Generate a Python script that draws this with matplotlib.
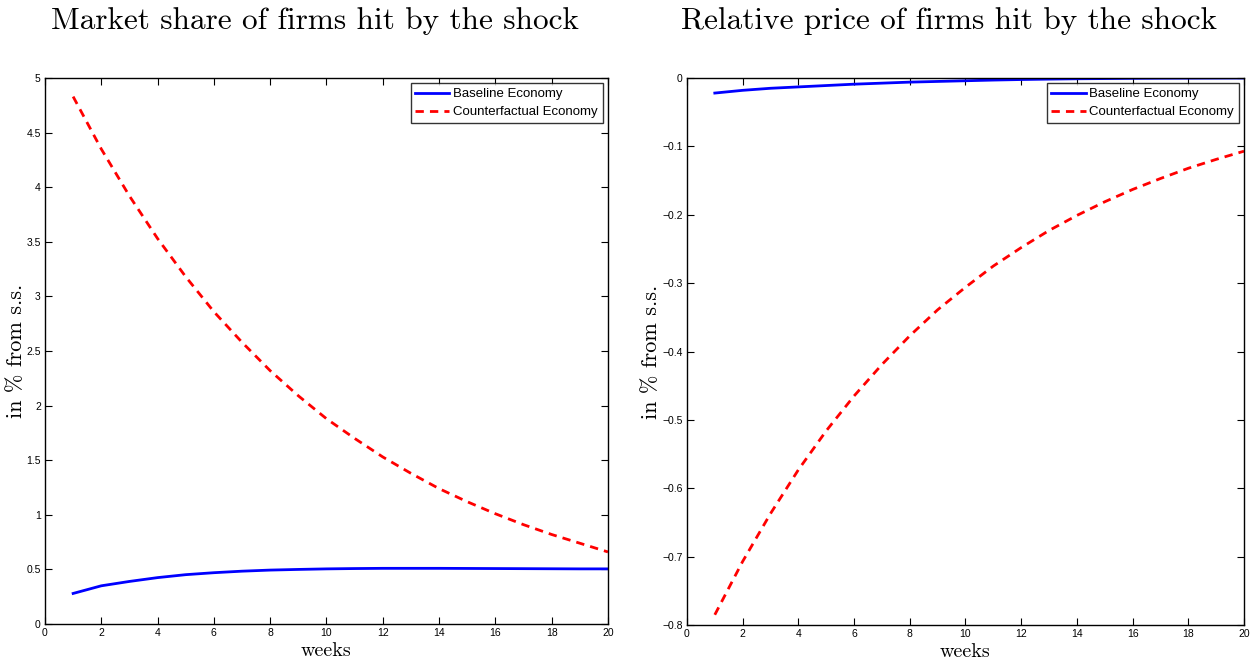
import matplotlib
matplotlib.use("Agg")
import matplotlib.pyplot as plt

weeks = list(range(1, 21))

share_baseline = [0.28, 0.35, 0.39, 0.425, 0.452, 0.47, 0.484, 0.494, 0.50, 0.505,
                  0.508, 0.51, 0.51, 0.51, 0.509, 0.508, 0.507, 0.506, 0.505, 0.505]
share_counter = [4.83, 4.35, 3.92, 3.53, 3.18, 2.86, 2.58, 2.32, 2.09, 1.88,
                 1.70, 1.53, 1.38, 1.24, 1.12, 1.01, 0.91, 0.82, 0.74, 0.66]

price_baseline = [-0.022, -0.018, -0.015, -0.013, -0.011, -0.009, -0.0075, -0.006, -0.005, -0.004,
                  -0.003, -0.0022, -0.0016, -0.0011, -0.0008, -0.0005, -0.0003, -0.0002, -0.0001, 0.0]
price_counter = [-0.785, -0.707, -0.637, -0.573, -0.516, -0.465, -0.419, -0.377, -0.339, -0.306,
                 -0.275, -0.248, -0.223, -0.201, -0.181, -0.163, -0.147, -0.132, -0.119, -0.107]

titles = ["Market share of firms hit by the shock", "Relative price of firms hit by the shock"]
legend_labels = ["Baseline Economy", "Counterfactual Economy"]
xticks = list(range(0, 21, 2))
left_yticks = [0, 0.5, 1, 1.5, 2, 2.5, 3, 3.5, 4, 4.5, 5]
right_yticks = [-0.8, -0.7, -0.6, -0.5, -0.4, -0.3, -0.2, -0.1, 0]

serif = ["cmr10", "DejaVu Serif"]
tickfont = "Liberation Sans"

fig = plt.figure(figsize=(12.6, 6.64), dpi=100)
ax1 = fig.add_axes([0.0357, 0.0602, 0.4468, 0.8223])
ax2 = fig.add_axes([0.5452, 0.0587, 0.4421, 0.8238])

def style(ax, yt, ylim, title, title_x, ylabel_txt, ylpad):
    ax.set_xlim(0, 20)
    ax.set_ylim(*ylim)
    ax.set_xticks(xticks)
    ax.set_yticks(yt)
    ax.set_xticklabels([str(v) for v in xticks], fontsize=7.5, family=tickfont)
    ax.set_yticklabels([("%g" % v).replace("-", "\u2212") for v in yt], fontsize=7.5, family=tickfont)
    ax.tick_params(direction="in", top=True, right=True, length=5, width=0.8, pad=3)
    for s in ax.spines.values():
        s.set_linewidth(1.0)
    ax.set_title(title, fontsize=22.5, family=serif, pad=35, x=title_x)
    ax.set_xlabel("weeks", fontsize=14.5, family=serif, labelpad=3)
    ax.set_ylabel(ylabel_txt, fontsize=16, family=serif, labelpad=ylpad)
    leg = ax.legend(loc="upper right", prop={"family": tickfont, "size": 9.5},
                    frameon=True, fancybox=False, borderaxespad=0.4, handlelength=2.6,
                    handletextpad=0.3, borderpad=0.35, labelspacing=0.45)
    leg.get_frame().set_edgecolor("black")
    leg.get_frame().set_linewidth(1.0)

ax1.plot(weeks, share_baseline, color="#0000ff", lw=2.0, label=legend_labels[0])
ax1.plot(weeks, share_counter, color="#ff0000", lw=2.0, ls=(0, (3, 2.2)), label=legend_labels[1])
style(ax1, left_yticks, (0, 5), titles[0], 0.48, "in % from s.s.", 0)

ax2.plot(weeks, price_baseline, color="#0000ff", lw=2.0, label=legend_labels[0])
ax2.plot(weeks, price_counter, color="#ff0000", lw=2.0, ls=(0, (3, 2.2)), label=legend_labels[1])
style(ax2, right_yticks, (-0.8, 0), titles[1], 0.47, "in % from s.s.", 1)

fig.savefig("out.png", dpi=100)
